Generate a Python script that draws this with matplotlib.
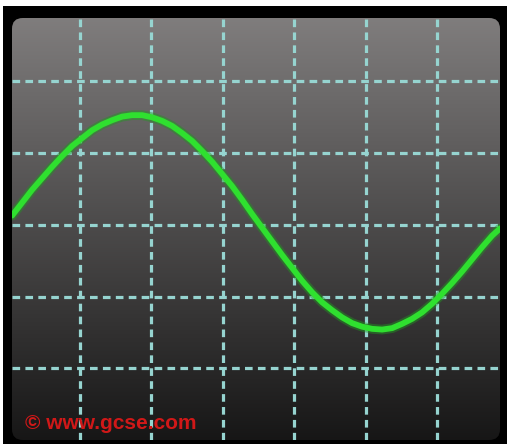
"""
Oscilloscope trace: one cycle of an AC signal on a graticule screen.
"""

import numpy as np
import matplotlib.pyplot as plt
from matplotlib.patches import FancyBboxPatch

# Trace: time and voltage, both in graticule divisions
time_div = [0.05, 0.19, 0.33, 0.47, 0.61, 0.75, 0.89, 1.03, 1.17, 1.31,
            1.45, 1.59, 1.73, 1.87, 2.01, 2.15, 2.29, 2.43, 2.57, 2.71,
            2.85, 2.99, 3.13, 3.27, 3.41, 3.55, 3.69, 3.83, 3.97, 4.11,
            4.25, 4.39, 4.53, 4.67, 4.81, 4.95, 5.09, 5.23, 5.37, 5.51,
            5.65, 5.79, 5.93, 6.07, 6.21, 6.35, 6.49, 6.63, 6.77, 6.88]
volt_div = [0.13, 0.31, 0.49, 0.65, 0.81, 0.96, 1.10, 1.21, 1.32, 1.40,
            1.46, 1.51, 1.53, 1.53, 1.50, 1.45, 1.38, 1.28, 1.17, 1.03,
            0.88, 0.71, 0.54, 0.35, 0.15, -0.04, -0.23, -0.42, -0.60, -0.78,
            -0.94, -1.08, -1.19, -1.29, -1.37, -1.42, -1.45, -1.46, -1.44, -1.38,
            -1.31, -1.22, -1.10, -0.96, -0.81, -0.65, -0.48, -0.31, -0.15, -0.05]

# Graticule lines
time_grid = [1, 2, 3, 4, 5, 6]
volt_grid = [-2, -1, 0, 1, 2]

credit = "\u00a9 www.gcse.com"

W, H = 507, 444
plt.rcParams["lines.scale_dashes"] = False

fig = plt.figure(figsize=(W / 100, H / 100), dpi=100, facecolor="white")

# black bezel
bezel = fig.add_axes([3 / W, 0, 504 / W, 438 / H])
bezel.set_facecolor("black")
bezel.set_xticks([])
bezel.set_yticks([])
for s in bezel.spines.values():
    s.set_visible(False)

# screen
ax = fig.add_axes([12 / W, 4 / H, 488 / W, 422 / H])
ax.set_xlim(0.048, 6.88)
ax.set_ylim(-3.0, 2.885)
ax.axis("off")

screen = FancyBboxPatch((0, 0), 1, 1, boxstyle="round,pad=0,rounding_size=0.022",
                        mutation_aspect=488 / 422, transform=ax.transAxes,
                        facecolor="none", edgecolor="none")
ax.add_patch(screen)

# vertical grey gradient, light at the top and near black at the bottom
shade = np.linspace(0.50, 0.09, 256).reshape(-1, 1)
rgb = np.dstack([shade, shade * 0.98, shade * 0.98])
img = ax.imshow(rgb, extent=[0.048, 6.88, -3.0, 2.885], aspect="auto",
                origin="upper", interpolation="bilinear", zorder=0)
img.set_clip_path(screen)

grid_style = dict(color="#96d4d0", lw=2.3, linestyle=(0, (5.5, 3.8)), zorder=2)
for t in time_grid:
    ax.axvline(t, **grid_style)
for v in volt_grid:
    ax.axhline(v, **grid_style)

# glow + trace
ax.plot(time_div, volt_div, color="#1f9a1f", lw=7, alpha=0.45,
        solid_capstyle="round", solid_joinstyle="round", zorder=3)
ax.plot(time_div, volt_div, color="#2fe02f", lw=4.2, solid_capstyle="round",
        solid_joinstyle="round", zorder=4)

ax.text(0.027, 0.04, credit, transform=ax.transAxes, color="#d01818",
        fontsize=15, fontweight="bold", family="Liberation Sans",
        va="center", ha="left", zorder=5)

fig.savefig("out.png", dpi=100, facecolor="white")
